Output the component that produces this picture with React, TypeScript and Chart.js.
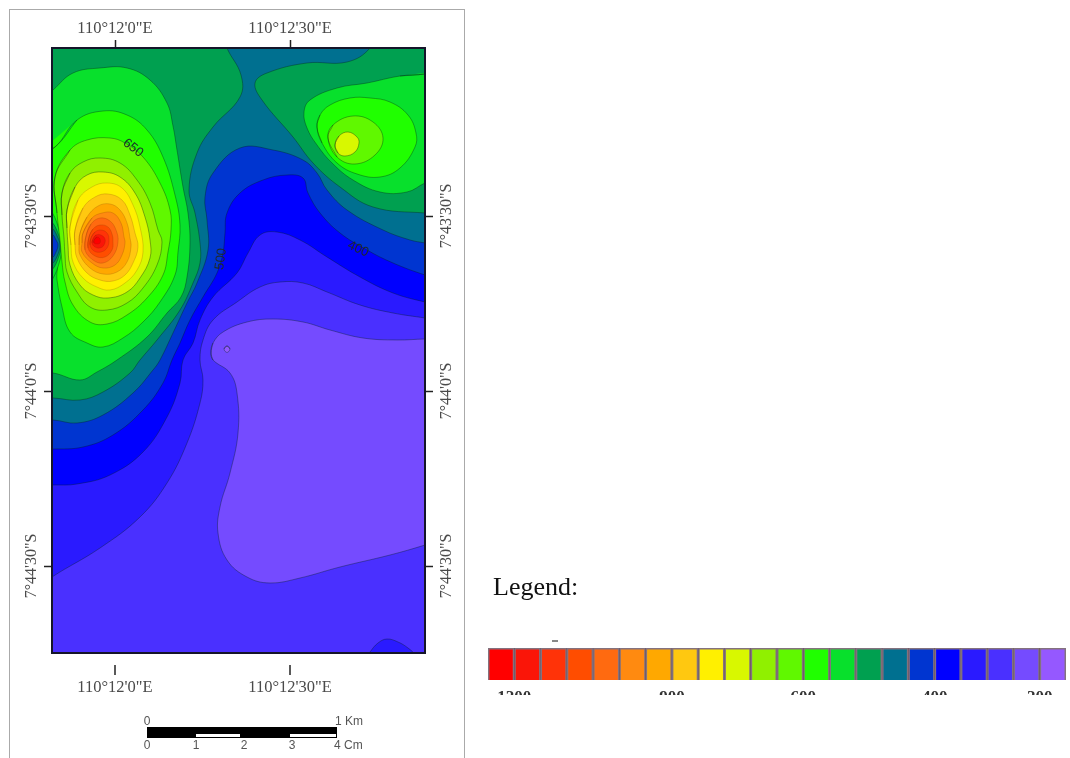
import React, { useEffect, useRef } from "react";
import { Chart, registerables } from "chart.js";

Chart.register(...registerables);

type P = number[];

// Colour classes of the legend, from the highest (cell 1) to the lowest (cell 22)
const classColors = [
  "#ff0000", "#fa1508", "#ff3308", "#ff4d00", "#ff6a10", "#ff8a10", "#ffa800", "#ffc810",
  "#fff000", "#d8f800", "#90f000", "#60f800", "#20ff00", "#08e02c", "#00a050", "#007090",
  "#0035d0", "#0000ff", "#2a1aff", "#4a30ff", "#754bff", "#9558ff",
];
const legendTickCells = [1, 7, 12, 17, 21];
const legendTickLabels = ["1200", "900", "600", "400", "200"];

// Map grid: frame is 373 x 605 grid units
const lonTicks = [63, 238];
const lonLabels = ["110°12'0\"E", "110°12'30\"E"];
const latTicks = [168, 343, 518];
const latLabels = ["7°43'30\"S", "7°44'0\"S", "7°44'30\"S"];

const contourLabelText = ["650", "500", "400"];
const contourLabelX = [81, 169, 306];
const contourLabelY = [100, 211, 201];
const contourLabelAngle = [38, -82, 25];

const baseArea: P[] = [[-60,-60],[433,-60],[433,665],[-60,665]];
const lowBasin: P[] = [[159,305],[161,312],[178,325],[185,345],[186,385],[178,425],[168,459],[166,485],[175,512],[195,529],[218,535],[248,530],[288,519],[338,507],[373,497],[393,490],[393,291],[373,291],[345,292],[311,290],[278,282],[251,274],[221,271],[195,274],[171,284],[161,295]];
const lowDot: P[] = [[175,298],[178,301],[175,304.5],[172,301]];
const southBump: P[] = [[313,612],[318,604],[326,595],[335,591],[346,594],[356,600],[363,607],[368,622]];
const band19: P[] = [[-32,552],[0,529],[48,500],[88,469],[115,435],[135,395],[148,355],[151,332],[148,312],[151,292],[161,272],[185,254],[208,239],[228,234],[251,235],[275,244],[308,257],[341,265],[373,270],[398,274],[398,-28],[-32,-28]];
const band18: P[] = [[-32,437],[1,437],[25,436],[58,427],[91,404],[115,369],[128,335],[131,312],[141,295],[148,272],[161,249],[185,225],[196,205],[208,187],[225,184],[248,192],[275,209],[308,229],[341,245],[373,254],[398,259],[398,-28],[-32,-28]];
const band17: P[] = [[-32,401],[1,401],[31,399],[61,387],[91,362],[111,335],[120,312],[128,295],[138,272],[151,249],[165,225],[171,205],[173,185],[175,165],[188,145],[211,132],[235,127],[251,130],[256,145],[268,165],[288,185],[315,202],[341,215],[373,227],[398,234],[398,-28],[-32,-28]];
const band16: P[] = [[-32,372],[1,372],[25,375],[51,367],[81,345],[101,322],[108,312],[121,285],[135,255],[145,235],[156,202],[155,172],[153,149],[161,125],[188,100],[221,102],[251,112],[265,125],[275,142],[295,162],[331,182],[358,192],[373,195],[398,200],[398,-28],[-32,-28]];
const west15: P[] = [[-32,350],[1,350],[28,352],[51,344],[78,325],[88,312],[105,292],[128,262],[141,235],[148,215],[148,195],[143,165],[137,142],[145,105],[161,79],[188,49],[189,27],[175,0],[170,-18],[-32,-28]];
const east15: P[] = [[323,-18],[393,-18],[393,165],[373,165],[321,159],[288,139],[261,115],[241,89],[210,52],[203,35],[215,25],[255,15],[295,14],[318,0]];
const west14: P[] = [[-22,325],[1,325],[28,332],[45,324],[65,312],[95,289],[115,265],[129,249],[135,229],[138,195],[136,165],[131,139],[125,102],[121,78],[115,55],[98,32],[75,20],[48,20],[21,25],[1,42],[-22,62]];
const east14: P[] = [[373,26],[348,28],[315,35],[285,40],[258,52],[252,64],[255,80],[265,97],[280,115],[301,132],[328,144],[355,144],[373,135],[393,127],[393,22]];
const west13: P[] = [[3,99],[25,72],[51,63],[75,67],[95,82],[111,109],[123,147],[128,177],[126,204],[123,227],[108,254],[91,274],[71,290],[51,299],[35,295],[18,284],[10,259],[5,232],[3,212],[-22,207],[-22,112]];
const notch14: P[] = [[-12,150],[0,164],[8,185],[10,197],[8,212],[0,232],[-12,245]];
const notch15: P[] = [[-12,165],[0,174],[7,188],[9,197],[7,208],[0,222],[-12,230]];
const notch16: P[] = [[-12,173],[0,180],[6,190],[8,197],[6,206],[0,216],[-12,222]];
const notch17: P[] = [[-12,182],[0,186],[4,192],[6,197],[4,204],[0,210],[-12,214]];
const peak12: P[] = [[3,129],[18,102],[35,92],[58,90],[73,95],[91,109],[108,135],[118,162],[119,182],[116,204],[111,227],[95,250],[75,267],[55,276],[38,274],[21,257],[13,234],[10,214],[8,192],[5,165]];
const peak11: P[] = [[10,145],[18,125],[31,114],[48,110],[68,115],[85,132],[98,155],[106,182],[110,194],[105,217],[91,240],[75,255],[55,262],[38,259],[25,244],[15,224],[13,207],[12,190],[10,167]];
const peak10: P[] = [[15,162],[23,139],[35,127],[51,124],[68,129],[83,145],[93,169],[98,192],[98,210],[88,230],[75,244],[56,250],[41,247],[28,237],[18,217],[16,197],[15,180]];
const peak9: P[] = [[18,179],[26,152],[40,139],[55,135],[70,140],[81,157],[88,179],[91,204],[85,222],[73,235],[58,242],[45,239],[31,230],[21,214],[19,197]];
const peak8: P[] = [[23,182],[31,160],[43,149],[56,146],[70,152],[78,167],[83,185],[86,199],[81,215],[73,227],[61,233],[48,232],[35,225],[25,210],[23,197]];
const peak7: P[] = [[28,185],[35,169],[46,158],[58,156],[68,162],[75,175],[78,190],[79,199],[75,214],[65,224],[51,226],[38,220],[28,207],[27,197]];
const peak6: P[] = [[31,185],[40,170],[50,165],[61,165],[69,175],[72,189],[73,195],[70,207],[63,217],[51,220],[40,215],[30,204],[30,195]];
const peak5: P[] = [[34,188],[39,176],[48,170],[58,173],[64,182],[66,194],[61,208],[51,215],[41,212],[33,202]];
const peak4: P[] = [[37,189],[41,181],[48,177],[56,179],[60,186],[61,194],[60,202],[53,209],[43,208],[36,200]];
const peak3: P[] = [[39,190],[43,184],[49,182],[55,185],[57,192],[55,200],[49,204],[42,203],[38,197]];
const peak2: P[] = [[41,191],[44,187],[49,187],[53,191],[52,197],[48,200],[43,199],[40,195]];
const peak1: P[] = [[42,192],[45,189],[48,191],[48,195],[45,196],[42,195]];
const east13: P[] = [[265,79],[270,95],[285,115],[305,126],[328,129],[348,120],[363,99],[364,85],[356,67],[338,54],[318,50],[298,50],[278,57],[268,67]];
const east12: P[] = [[276,90],[281,77],[301,68],[321,74],[331,90],[323,107],[303,116],[285,109]];
const east10: P[] = [[283,97],[287,88],[296,84],[305,89],[307,95],[303,104],[293,108],[286,105]];

// [legend cell, contour], painted in this order
const layers: [number, P[]][] = [
  [20, baseArea], [21, lowBasin], [22, lowDot], [19, southBump],
  [19, band19], [18, band18], [17, band17], [16, band16],
  [15, west15], [15, east15], [14, west14], [14, east14], [13, west13],
  [14, notch14], [15, notch15], [16, notch16], [17, notch17],
  [12, peak12], [11, peak11], [10, peak10], [9, peak9], [8, peak8], [7, peak7],
  [6, peak6], [5, peak5], [4, peak4], [3, peak3], [2, peak2], [1, peak1],
  [13, east13], [12, east12], [10, east10],
];

const ring = (pts: P[]) =>
  [pts[pts.length - 1], ...pts, pts[0], pts[1]].map(([x, y]) => ({ x, y }));

const mapExtras = {
  id: "mapExtras",
  afterDraw(chart: any) {
    const { ctx, scales } = chart;
    ctx.save();
    // south ticks stand apart from the frame
    ctx.strokeStyle = "#222";
    ctx.lineWidth = 1.5;
    const base = scales.x2.bottom - 105;
    lonTicks.forEach((t) => {
      const px = scales.x2.getPixelForValue(t);
      ctx.beginPath();
      ctx.moveTo(px, base + 12);
      ctx.lineTo(px, base + 22);
      ctx.stroke();
    });
    ctx.fillStyle = "#1d2a2a";
    ctx.font = "13px 'Liberation Sans'";
    ctx.textAlign = "center";
    ctx.textBaseline = "middle";
    contourLabelText.forEach((t, i) => {
      ctx.save();
      ctx.translate(scales.x.getPixelForValue(contourLabelX[i]), scales.y.getPixelForValue(contourLabelY[i]));
      ctx.rotate((contourLabelAngle[i] * Math.PI) / 180);
      ctx.fillText(t, 0, 0);
      ctx.restore();
    });
    ctx.restore();
  },
};

const labelFont = { family: "'Liberation Serif'", size: 16.5 };
const latFont = { family: "'Liberation Serif'", size: 16 };
const gridOpts = (drawTicks: boolean) => ({
  drawOnChartArea: false,
  drawTicks,
  tickLength: 8,
  tickColor: "#222",
  tickWidth: 1.5,
});
const borderOpts = { display: true, color: "#15152a", width: 2, z: 1 };

const lonAxis = (position: string, size: number, padding: number, drawTicks: boolean) => ({
  type: "linear",
  position,
  min: 0,
  max: 373,
  afterBuildTicks: (s: any) => { s.ticks = lonTicks.map((value) => ({ value })); },
  afterFit: (s: any) => { s.height = size; },
  grid: gridOpts(drawTicks),
  border: borderOpts,
  ticks: {
    autoSkip: false, minRotation: 0, maxRotation: 0, padding, color: "#4a4a4a", font: labelFont,
    callback: (v: number) => lonLabels[lonTicks.indexOf(v)],
  },
});
const latAxis = (position: string, size: number, padding: number) => ({
  type: "linear",
  position,
  reverse: true,
  min: 0,
  max: 605,
  afterBuildTicks: (s: any) => { s.ticks = latTicks.map((value) => ({ value })); },
  afterFit: (s: any) => { s.width = size; },
  grid: gridOpts(true),
  border: borderOpts,
  ticks: {
    autoSkip: false, minRotation: 90, maxRotation: 90, crossAlign: "center", padding, color: "#4a4a4a", font: latFont,
    callback: (v: number) => latLabels[latTicks.indexOf(v)],
  },
});

function MapChart() {
  const ref = useRef<HTMLCanvasElement>(null);
  useEffect(() => {
    const chart = new Chart(ref.current!, {
      type: "scatter",
      data: {
        // Chart.js paints the last dataset first
        datasets: [...layers].reverse().map(([cell, pts]) => ({
          data: ring(pts),
          showLine: true,
          fill: "shape",
          backgroundColor: classColors[cell - 1],
          borderColor: cell <= 9 ? "rgba(110,40,0,0.32)" : "rgba(0,30,20,0.45)",
          borderWidth: cell <= 9 ? 0.6 : 0.8,
          tension: 0.4,
          capBezierPoints: false,
          pointRadius: 0,
          pointHoverRadius: 0,
          xAxisID: "x",
          yAxisID: "y",
        })),
      },
      options: {
        animation: false,
        responsive: false,
        events: [],
        layout: { padding: 0 },
        plugins: { legend: { display: false }, tooltip: { enabled: false }, title: { display: false } },
        scales: {
          x: lonAxis("top", 48, 1, true),
          x2: lonAxis("bottom", 105, 25, false),
          y: latAxis("left", 52, -20),
          y2: latAxis("right", 645, -19),
        },
      } as any,
      plugins: [mapExtras],
    } as any);
    return () => chart.destroy();
  }, []);
  return <canvas ref={ref} width={1070} height={758} style={{ position: "absolute", left: 0, top: 0, display: "block", filter: "blur(0.6px)" }} />;
}

function LegendChart() {
  const ref = useRef<HTMLCanvasElement>(null);
  useEffect(() => {
    const chart = new Chart(ref.current!, {
      type: "bar",
      data: {
        datasets: [{
          data: classColors.map((_, i) => ({ x: i + 0.5, y: 1 })),
          backgroundColor: classColors,
          borderColor: "rgba(50,20,40,0.6)",
          borderWidth: 1.8,
          barPercentage: 1,
          categoryPercentage: 1,
        }],
      },
      options: {
        animation: false,
        responsive: false,
        events: [],
        layout: { padding: { left: 8, right: 4, top: 8, bottom: 0 } },
        plugins: { legend: { display: false }, tooltip: { enabled: false } },
        scales: {
          x: {
            type: "linear",
            offset: false,
            min: 0,
            max: classColors.length,
            afterBuildTicks: (s: any) => { s.ticks = legendTickCells.map((value) => ({ value })); },
            afterFit: (s: any) => { s.height = 40; },
            grid: { display: false, drawTicks: false },
            border: { display: false },
            ticks: {
              autoSkip: false, minRotation: 0, maxRotation: 0, padding: 7, color: "#333",
              font: { family: "'Liberation Serif'", size: 17, weight: "bold" },
              callback: (v: number) => legendTickLabels[legendTickCells.indexOf(v)],
            },
          },
          y: { display: false, min: 0, max: 1 },
        },
      } as any,
    } as any);
    return () => chart.destroy();
  }, []);
  return (
    <div style={{ position: "absolute", left: 480, top: 640, width: 590, height: 55, overflow: "hidden" }}>
      <canvas ref={ref} width={590} height={80} style={{ display: "block", filter: "blur(0.6px)" }} />
    </div>
  );
}

const sans: React.CSSProperties = { position: "absolute", fontFamily: "'Liberation Sans'", fontSize: 12, color: "#555", lineHeight: "14px", whiteSpace: "nowrap" };
const centered = (left: number, top: number, text: string, align = "center") => (
  <span key={text + left + top} style={{ ...sans, left, top, transform: align === "center" ? "translateX(-50%)" : undefined }}>{text}</span>
);

export default function App() {
  return (
    <div style={{ position: "absolute", left: 0, top: 0, width: 1070, height: 758, overflow: "hidden", background: "#fff" }}>
      <div style={{ position: "absolute", left: 9, top: 9, width: 454, height: 770, border: "1.5px solid #aaa" }} />
      <MapChart />
      <div style={{ position: "absolute", left: 147, top: 727, width: 190, height: 11, background: "#000" }} />
      <div style={{ position: "absolute", left: 196, top: 734, width: 44, height: 2.5, background: "#fff" }} />
      <div style={{ position: "absolute", left: 290, top: 734, width: 46, height: 2.5, background: "#fff" }} />
      {centered(147, 714, "0")}
      {centered(335, 714, "1 Km", "left")}
      {centered(147, 738, "0")}
      {centered(196, 738, "1")}
      {centered(244, 738, "2")}
      {centered(292, 738, "3")}
      {centered(334, 738, "4 Cm", "left")}
      <div style={{ position: "absolute", left: 493, top: 572, fontFamily: "'Liberation Serif'", fontSize: 26, color: "#111", lineHeight: "30px" }}>Legend:</div>
      <LegendChart />
      <div style={{ position: "absolute", left: 552, top: 640, width: 6, height: 1.5, background: "#888" }} />
    </div>
  );
}
